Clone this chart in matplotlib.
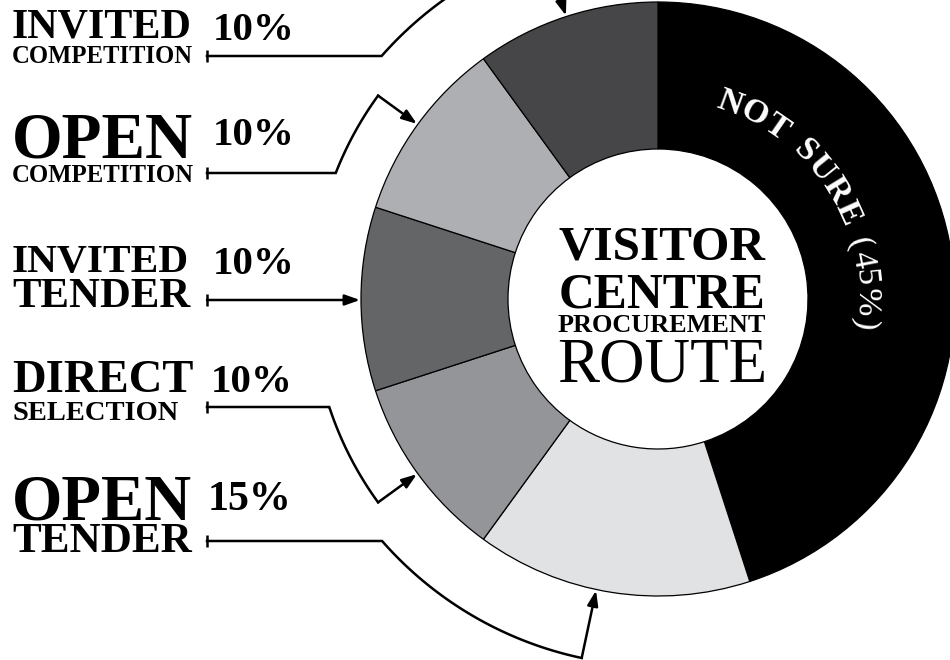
import numpy as np
import matplotlib
matplotlib.use("Agg")
import matplotlib.pyplot as plt
from matplotlib.textpath import TextPath
from matplotlib.font_manager import FontProperties

# =========================
# DATA
# =========================

routes = ["NOT SURE", "OPEN TENDER", "DIRECT SELECTION",
          "INVITED TENDER", "OPEN COMPETITION", "INVITED COMPETITION"]
shares = [45, 15, 10, 10, 10, 10]
colors = ["#000000", "#e1e2e4", "#949599", "#646567", "#aeafb2", "#464648"]

# left-hand labels, same order as routes[1:]
big_words = ["OPEN", "DIRECT", "INVITED", "OPEN", "INVITED"]
small_words = ["TENDER", "SELECTION", "TENDER", "COMPETITION", "COMPETITION"]
pct_labels = ["15%", "10%", "10%", "10%", "10%"]

ring_label = "NOT SURE (45%)"
centre_lines = ["VISITOR", "CENTRE", "PROCUREMENT", "ROUTE"]

# =========================
# LAYOUT (pixels, y measured from the top)
# =========================

W, H = 950, 660
CX, CY = 658, 299
R_OUT, R_IN = 297, 150
FONT = "Liberation Serif"

# big word: baseline, width / small word: baseline, width / pct: x, baseline, width / line y / connector radius
big_pos = [(520, 180), (392, 181), (272, 177), (157, 181), (38, 180)]
small_pos = [(552, 180), (420, 166), (307, 178), (182, 181), (63, 180)]
pct_pos = [(208, 510, 84), (211, 392, 82), (213, 274, 82), (213, 145, 82), (213, 40, 82)]
line_y = [541, 407, 300, 173, 56]
conn_r = [367, 346, None, 346, 368]
arrow_shift = [3, 0, 0, 0, 0]  # degrees, nudges the arrow off the wedge middle

centre_pos = [(260, 207, "bold"), (307, 207, "bold"), (332, 209, "bold"), (382, 210, "normal")]

fig = plt.figure(figsize=(W / 100, H / 100), dpi=100)
ax = fig.add_axes([0, 0, 1, 1])
renderer = fig.canvas.get_renderer()

# =========================
# DONUT
# =========================

ax.pie(
    shares,
    colors=colors,
    startangle=90,
    counterclock=False,
    radius=R_OUT,
    center=(CX, H - CY),
    wedgeprops=dict(width=R_OUT - R_IN, edgecolor="black", linewidth=0.9),
)
ax.set_xlim(0, W)
ax.set_ylim(0, H)
ax.set_aspect("equal")
ax.set_axis_off()

cum = np.cumsum([0] + shares[:-1])
mid_angles = [90 - 360 * (c + v / 2) / 100 for c, v in zip(cum, shares)]


def polar(r, ang):
    a = np.radians(ang)
    return CX + r * np.cos(a), (H - CY) + r * np.sin(a)


def fit_text(x, y, s, width, ha="left", **kw):
    t = ax.text(x, H - y, s, ha=ha, va="baseline", fontsize=30,
                family=FONT, **kw)
    w = t.get_window_extent(renderer).width
    t.set_fontsize(30 * width / w)
    return t


# =========================
# LEFT LABELS + CONNECTORS
# =========================

arrow_kw = dict(arrowstyle="-|>,head_length=0.9,head_width=0.32",
                color="black", lw=1.8, shrinkA=0, shrinkB=0)

for i in range(5):
    fit_text(12, big_pos[i][0], big_words[i], big_pos[i][1], fontweight="bold")
    fit_text(12, small_pos[i][0], small_words[i], small_pos[i][1], fontweight="bold")
    px, pb, pw = pct_pos[i]
    fit_text(px, pb, pct_labels[i], pw, fontweight="bold")

    y = H - line_y[i]
    x0 = 207
    ax.plot([x0, x0], [y - 6, y + 6], color="black", lw=1.8, solid_capstyle="butt")

    mid = mid_angles[i + 1] % 360 - arrow_shift[i]
    tip = polar(R_OUT + 1, mid)
    r = conn_r[i]
    if r is None:
        ax.annotate("", xy=(tip[0], y), xytext=(x0, y), arrowprops=arrow_kw)
        continue
    th0 = 180 - np.degrees(np.arcsin((y - (H - CY)) / r))
    arc = np.linspace(th0, mid, 80)
    xs = [x0] + [CX + r * np.cos(np.radians(a)) for a in arc]
    ys = [y] + [(H - CY) + r * np.sin(np.radians(a)) for a in arc]
    ax.plot(xs, ys, color="black", lw=1.8, solid_joinstyle="miter")
    ax.annotate("", xy=tip, xytext=(xs[-1], ys[-1]), arrowprops=arrow_kw)

# =========================
# CENTRE TEXT
# =========================

for s, (b, w, weight) in zip(centre_lines, centre_pos):
    fit_text(662, b, s, w, ha="center", fontweight=weight)

# =========================
# CURVED LABEL ON THE BLACK WEDGE
# =========================

size_px = 34
base_r = 200
a_start, a_end = 70, -7
fp = FontProperties(family=FONT, weight="bold")
widths = []
for ch in ring_label:
    if ch == " ":
        widths.append(0.3 * size_px)
    else:
        widths.append(TextPath((0, 0), ch, size=size_px, prop=fp).get_extents().width)
widths = np.array(widths)
mid_r = base_r + 11
span = np.radians(a_start - a_end) * mid_r
inner = widths.sum() - widths[0] / 2 - widths[-1] / 2
track = (span - inner) / (len(ring_label) - 1)
pos = np.cumsum(widths) - widths / 2 + track * np.arange(len(ring_label))
pos = pos - pos[0]
split = ring_label.index("(")
for k, ch in enumerate(ring_label):
    if ch == " ":
        continue
    ang = a_start - np.degrees(pos[k] / mid_r)
    x, yv = polar(base_r, ang)
    ax.text(x, yv, ch, rotation=ang - 90, rotation_mode="anchor",
            ha="center", va="baseline", color="white", family=FONT,
            fontsize=size_px * 0.72,
            fontweight="bold" if k < split else "normal")

plt.savefig("out.png", dpi=100)
